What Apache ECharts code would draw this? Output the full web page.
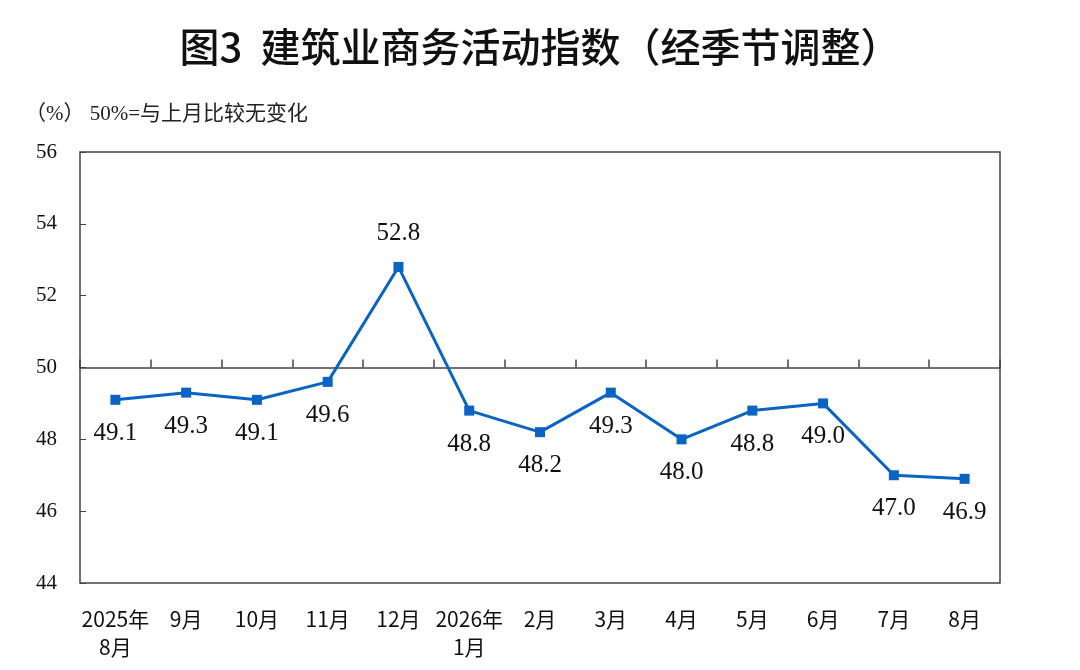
<!DOCTYPE html>
<html>
<head>
<meta charset="utf-8">
<script src="https://cdn.jsdelivr.net/npm/echarts@6/dist/echarts.min.js"></script>
<style>
  html, body { margin: 0; padding: 0; background: #fff; }
  #main { width: 1080px; height: 670px; }
</style>
</head>
<body>
<div id="main"></div>
<script>
    // 月份与指数
    var months = ['2025年\n8月', '9月', '10月', '11月', '12月', '2026年\n1月', '2月', '3月', '4月', '5月', '6月', '7月', '8月'];
    var values = [49.1, 49.3, 49.1, 49.6, 52.8, 48.8, 48.2, 49.3, 48.0, 48.8, 49.0, 47.0, 46.9];
    var above = [4]; // 标签放在点上方的序号

    var myChart = echarts.init(document.getElementById('main'));

    var seriesData = values.map(function (v, i) {
        var up = above.indexOf(i) >= 0;
        return {
            value: v,
            label: { position: up ? 'top' : 'bottom', distance: up ? 16 : 16 }
        };
    });

    var option = {
        animation: false,
        backgroundColor: '#fff',
        title: [{
            text: '图3  建筑业商务活动指数（经季节调整）',
            left: 'center',
            top: 22,
            textStyle: { fontFamily: 'Noto Sans CJK SC', fontSize: 40, fontWeight: 500, color: '#111' }
        }, {
            text: '（%） 50%=与上月比较无变化',
            left: 20,
            top: 99,
            textStyle: { fontFamily: 'Liberation Serif, Noto Sans CJK SC', fontSize: 21, fontWeight: 'normal', color: '#222' }
        }],
        grid: { left: 80, right: 80, top: 152, bottom: 87, show: true, borderColor: '#444', borderWidth: 1.5 },
        xAxis: [{
            type: 'category',
            data: months,
            boundaryGap: true,
            axisLine: { show: false },
            axisTick: { show: false },
            axisLabel: {
                margin: 22,
                fontFamily: 'Noto Sans CJK SC',
                fontSize: 21,
                color: '#111',
                lineHeight: 28,
                interval: 0
            }
        }, {
            // 50 线
            type: 'category',
            data: months,
            position: 'bottom',
            offset: -215.5,
            boundaryGap: true,
            axisLine: { show: true, lineStyle: { color: '#444', width: 1.5 } },
            axisTick: { show: true, inside: true, length: 8, lineStyle: { color: '#444', width: 1.5 } },
            axisLabel: { show: false }
        }],
        yAxis: {
            type: 'value',
            min: 44,
            max: 56,
            interval: 2,
            axisLine: { show: false },
            axisTick: { show: true, inside: true, length: 6, lineStyle: { color: '#444' } },
            splitLine: { show: false },
            axisLabel: { margin: 23, fontFamily: 'Liberation Serif', fontSize: 21, color: '#111' }
        },
        series: [{
            type: 'line',
            xAxisIndex: 0,
            data: seriesData,
            symbol: 'rect',
            symbolSize: 10,
            itemStyle: { color: '#0a64c4' },
            lineStyle: { color: '#0a64c4', width: 3 },
            label: {
                show: true,
                fontFamily: 'Liberation Serif',
                fontSize: 25,
                color: '#111',
                formatter: function (p) { return p.value.toFixed(1); }
            }
        }]
    };

    myChart.setOption(option);
</script>
</body>
</html>
